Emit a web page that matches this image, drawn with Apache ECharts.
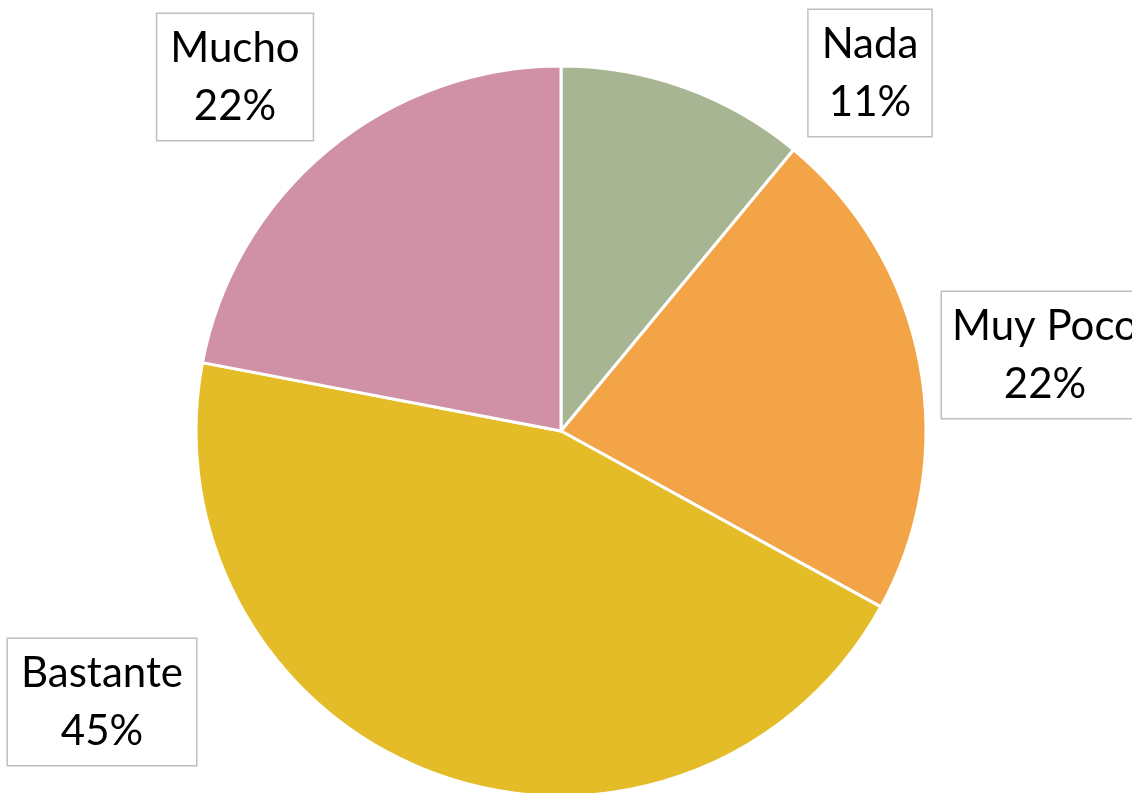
<!DOCTYPE html>
<html>
<head>
<meta charset="utf-8">
<style>
    html, body { margin: 0; padding: 0; background: #fff; }
    #chart { width: 1132px; height: 793px; }
</style>
<script src="https://cdn.jsdelivr.net/npm/echarts@6/dist/echarts.min.js"></script>
</head>
<body>
<div id="chart"></div>
<script>
// datos
const categories = ['Nada', 'Muy Poco', 'Bastante', 'Mucho']
const values = [11, 22, 45, 22]
const colors = ['#A7B592', '#F2A446', '#E4BC28', '#D090A6']

// centros de las etiquetas (cajas) en pixeles
const labelPos = [[870, 73], [1045, 355], [102, 702], [235, 77]]

const chart = echarts.init(document.getElementById('chart'))

chart.setOption({
    animation: false,
    backgroundColor: '#fff',
    series: [{
        type: 'pie',
        center: [561, 431],
        radius: 365,
        startAngle: 90,
        clockwise: true,
        data: categories.map((name, i) => ({
            name: name,
            value: values[i],
            itemStyle: { color: colors[i] }
        })),
        itemStyle: {
            borderColor: '#fff',
            borderWidth: 3
        },
        labelLine: { show: false },
        label: {
            show: true,
            position: 'outside',
            overflow: 'none',
            formatter: p => p.name + '\n' + p.value + '%',
            fontFamily: 'Lato',
            fontSize: 42,
            lineHeight: 58,
            color: '#000',
            align: 'center',
            backgroundColor: '#fff',
            borderColor: '#BFBFBF',
            borderWidth: 1.5,
            padding: [5, 13, 5, 13]
        },
        labelLayout: params => {
            const lay = {
                x: labelPos[params.dataIndex][0],
                y: labelPos[params.dataIndex][1],
                align: 'center',
                verticalAlign: 'middle'
            }
            // la caja de Muy Poco se sale por la derecha, como en el original
            if (params.dataIndex === 1) {
                lay.width = 180
            }
            return lay
        }
    }]
})
</script>
</body>
</html>
